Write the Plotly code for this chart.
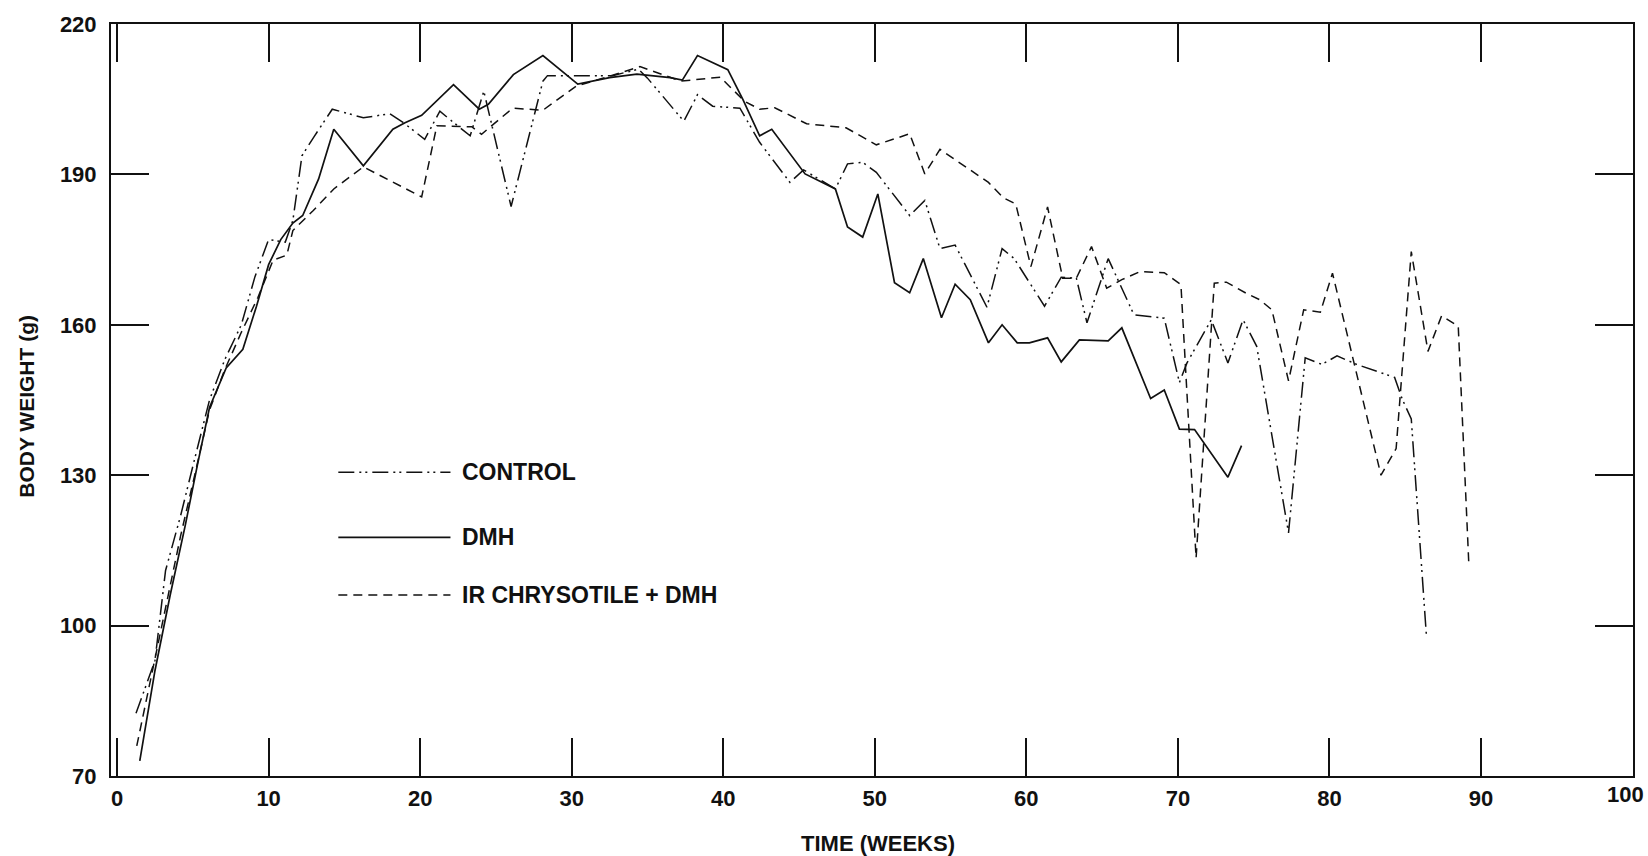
import plotly.graph_objects as go

# Body weight (g) against time (weeks) for the three treatment groups
control_weeks = [1.25, 2.5, 3.2, 4.2, 5.1, 6.1, 7.1, 8.2, 9.1, 10.0, 11.1, 11.6, 12.2, 12.95,
                 14.2, 16.25, 18.0, 18.9, 20.3, 21.3, 22.1, 23.3, 24.2, 26.0, 28.1, 28.4,
                 32.7, 34.4, 35.0, 37.4, 38.3, 39.3, 41.1, 42.4, 44.4, 45.3, 47.4, 48.2,
                 49.2, 50.1, 52.3, 53.3, 54.3, 55.3, 57.4, 58.4, 59.2, 61.2, 62.3, 63.3,
                 64.0, 65.4, 67.1, 69.1, 70.1, 70.6, 72.2, 73.3, 74.3, 75.2, 77.3, 78.4,
                 79.5, 80.5, 81.8, 84.3, 84.8, 85.4, 86.4]
control_wt = [82.5, 93, 111, 122, 133, 145, 153, 160, 169.6, 177, 176.5, 180.8, 193.7, 197.3,
              203, 201.3, 202.1, 200.3, 197.0, 202.6, 200.6, 197.7, 206.6, 183.6, 208.6, 209.7,
              209.7, 211.0, 209.2, 200.6, 205.9, 203.6, 203.2, 196.4, 188.4, 190.9, 187.1, 192.1,
              192.4, 190.4, 181.8, 184.8, 175.2, 175.9, 163.5, 175.2, 173.2, 163.7, 169.5, 169.3,
              160.4, 173.2, 162.0, 161.3, 148.5, 152.4, 161.0, 152.4, 161.0, 155.7, 118.5, 153.4,
              152.1, 153.8, 152.1, 149.5, 145.2, 141.2, 97.9]

dmh_weeks = [1.5, 2.5, 3.5, 4.5, 5.3, 6.1, 7.2, 8.3, 9.2, 10.0, 10.8, 11.6, 12.25, 13.3,
             14.3, 16.25, 18.2, 19.0, 20.1, 22.2, 23.9, 24.5, 26.15, 28.1, 30.4, 32.5,
             34.3, 36.5, 37.3, 38.3, 40.3, 41.3, 42.4, 43.2, 45.4, 47.4, 48.2, 49.2,
             50.2, 51.3, 52.3, 53.2, 54.4, 55.3, 56.3, 57.5, 58.4, 59.4, 60.2, 61.4,
             62.3, 63.5, 65.4, 66.3, 68.2, 69.1, 70.1, 71.1, 73.3, 74.2]
dmh_wt = [73, 91, 106, 120, 132, 143.5, 151.4, 155.1, 163.7, 172, 177, 180.3, 181.8, 189.1,
          199.0, 191.7, 199.0, 200.3, 201.8, 207.9, 203.0, 204.0, 209.9, 213.7, 208.0, 209.3,
          210.0, 209.3, 208.8, 213.7, 210.9, 204.9, 197.7, 199.0, 190.1, 187.1, 179.5, 177.5,
          186.1, 168.4, 166.4, 173.2, 161.4, 168.1, 165.0, 156.4, 160.0, 156.4, 156.4, 157.4,
          152.6, 157.0, 156.8, 159.4, 145.3, 147.0, 139.2, 139.1, 129.6, 135.9]

ir_weeks = [1.3, 2.4, 3.2, 4.2, 5.2, 6.1, 7.1, 8.2, 9.3, 10.3, 11.2, 11.6, 12.95, 14.3,
            16.25, 18.2, 20.1, 21.1, 23.4, 24.05, 26.1, 28.1, 30.3, 32.4, 34.5, 37.2,
            39.8, 41.4, 42.4, 43.4, 45.5, 48.1, 50.1, 52.3, 53.3, 54.3, 57.5, 58.5,
            59.3, 60.3, 61.4, 62.4, 63.3, 64.3, 65.3, 66.3, 67.5, 69.1, 70.2, 71.2,
            72.4, 73.2, 74.5, 75.4, 76.2, 77.3, 78.3, 79.4, 80.2, 83.4, 84.4, 85.4,
            86.5, 87.4, 88.5, 89.2]
ir_wt = [76, 92, 104, 118, 131, 143, 151, 158.5, 165.5, 172.9, 173.9, 178.8, 182.8, 187.1,
         191.5, 188.5, 185.5, 199.7, 199.5, 198.0, 203.2, 202.8, 207.6, 209.5, 211.5, 208.6,
         209.4, 204.6, 203.0, 203.3, 200.1, 199.3, 195.9, 198.1, 190.1, 195.0, 188.4, 185.3,
         184.1, 171.6, 183.5, 169.3, 169.3, 175.6, 167.3, 169.0, 170.6, 170.4, 168.0, 113.5,
         168.3, 168.5, 166.3, 165.0, 163.0, 148.8, 163.0, 162.5, 170.3, 130.0, 135.3, 174.6,
         154.7, 161.8, 159.7, 112.1]

x_ticks = [0, 10, 20, 30, 40, 50, 60, 70, 80, 90, 100]
y_ticks = [70, 100, 130, 160, 190, 220]

series_names = ["CONTROL", "DMH", "IR CHRYSOTILE + DMH"]

FONT = "Liberation Sans, Arial, Helvetica, sans-serif"
INK = "#111111"
DASH_CONTROL = "16px,5px,2px,4px,2px,5px"
DASH_IR = "9px,6px"
TICK_FONT = dict(family=FONT, size=22, color=INK, weight=700)

fig = go.Figure()
fig.add_trace(go.Scatter(x=control_weeks, y=control_wt, mode="lines", name=series_names[0],
                         line=dict(color=INK, width=1.5, dash=DASH_CONTROL)))
fig.add_trace(go.Scatter(x=dmh_weeks, y=dmh_wt, mode="lines", name=series_names[1],
                         line=dict(color=INK, width=1.7)))
fig.add_trace(go.Scatter(x=ir_weeks, y=ir_wt, mode="lines", name=series_names[2],
                         line=dict(color=INK, width=1.5, dash=DASH_IR)))

# Key drawn inside the plot: long line samples followed by labels
key_rows = [(130.6, DASH_CONTROL, 1.5), (117.6, "solid", 1.7), (106.1, DASH_IR, 1.5)]
for (ky, kdash, kw), label in zip(key_rows, series_names):
    fig.add_shape(type="line", xref="x", yref="y", x0=14.6, x1=22.0, y0=ky, y1=ky,
                  line=dict(color=INK, width=kw, dash=kdash))
    fig.add_annotation(xref="x", yref="y", x=22.6, y=ky, text=label, showarrow=False,
                       xanchor="left", yanchor="middle",
                       font=dict(family=FONT, size=23, color=INK, weight=700))

axis_common = dict(showline=True, linecolor=INK, linewidth=2, mirror="allticks",
                   ticks="inside", ticklen=38, tickwidth=1.6, tickcolor=INK,
                   showgrid=False, zeroline=False, tickfont=TICK_FONT)

# The last x label sits at the frame corner; it is placed by hand so it stays on the page
x_ticktext = [str(v) for v in x_ticks[:-1]] + [""]
fig.update_xaxes(range=[-0.4, 100.03], tickvals=x_ticks, ticktext=x_ticktext,
                 ticklabelstandoff=2, **axis_common)
fig.update_yaxes(range=[70, 220], tickvals=y_ticks, ticktext=[str(v) for v in y_ticks],
                 ticklabelstandoff=8, **axis_common)
fig.add_annotation(xref="x", yref="paper", x=x_ticks[-1], y=0, xshift=-7, yshift=-4,
                   text=str(x_ticks[-1]), showarrow=False, xanchor="center", yanchor="top",
                   font=TICK_FONT)

fig.add_annotation(xref="paper", yref="paper", x=0.504, y=0, yshift=-67, showarrow=False,
                   text="TIME (WEEKS)", xanchor="center", yanchor="middle",
                   font=dict(family=FONT, size=22, color=INK, weight=700))
fig.add_annotation(xref="paper", yref="paper", x=0, xshift=-84, y=0.491, showarrow=False,
                   text="BODY WEIGHT (g)", textangle=-90, xanchor="center", yanchor="middle",
                   font=dict(family=FONT, size=21, color=INK, weight=700))

fig.update_layout(width=1648, height=856, showlegend=False,
                  paper_bgcolor="white", plot_bgcolor="white",
                  margin=dict(l=111, r=15, t=19, b=80))

fig.write_html("out.html")
